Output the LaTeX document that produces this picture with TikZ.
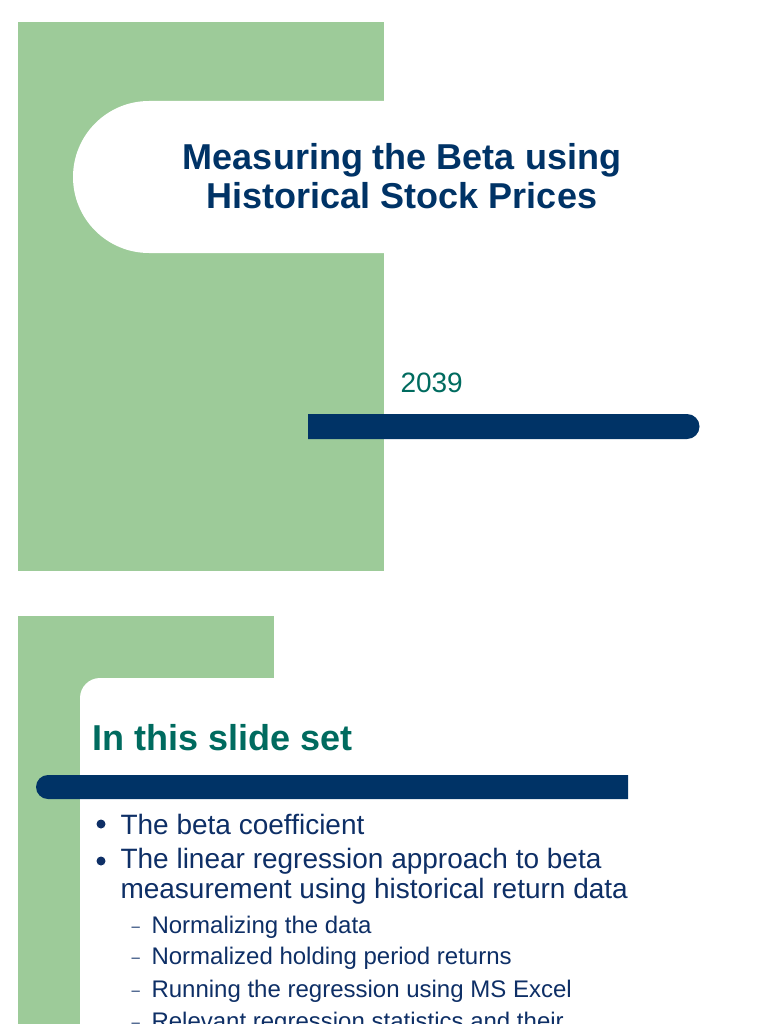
\documentclass[tikz,border=0pt]{standalone}
\usepackage{fontspec}
\setmainfont{Liberation Sans}
\definecolor{grn}{HTML}{9DCB99}
\definecolor{navy}{HTML}{003366}
\definecolor{teal2}{HTML}{006B5F}
\definecolor{txt}{HTML}{0E2F66}
\begin{document}
\begin{tikzpicture}[x=1pt,y=-1pt,
  tl/.style={font=\fontsize{36}{39}\selectfont\bfseries},
  bl/.style={anchor=west,text=txt,font=\fontsize{28}{30}\selectfont},
  sb/.style={anchor=west,text=txt,font=\fontsize{24}{25}\selectfont}]
\useasboundingbox (0,0) rectangle (768,1024);
\fill[white] (0,0) rectangle (768,1024);
% slide 1
\fill[grn] (18,22) rectangle (384,571);
\fill[white] (149,101) -- (384,101) -- (384,253) -- (149,253) arc[start angle=90,end angle=270,radius=76] -- cycle;
\node[tl,text=navy,align=center] (t1) at (402,176) {Measuring the Beta using\\Historical Stock Prices};
\node[anchor=west,text=teal2,font=\fontsize{28}{28}\selectfont] (yr) at (397,383) {2039};
\fill[navy] (308,414) -- (687,414) arc[start angle=270,end angle=450,radius=12.5] -- (308,439) -- cycle;
% slide 2
\fill[grn] (18,616) rectangle (274,1024);
\fill[white] (80,1024) -- (80,698) arc[start angle=180,end angle=270,radius=20] -- (274,678) -- (274,1024) -- cycle;
\node[tl,text=teal2,anchor=west] (t2) at (89,738) {In this slide set};
\fill[navy] (628,775) -- (48,775) arc[start angle=270,end angle=90,radius=12] -- (628,799) -- cycle;
\foreach \y in {824,861}{\fill[txt] (101,\y) circle[radius=4.5];}
\node[bl] (b1) at (117,824) {The beta coefficient};
\node[bl] (b2) at (117,861) {The linear regression approach to beta};
\node[bl] (b3) at (117,891) {measurement using historical return data};
\foreach \y/\t in {927/Normalizing the data,958/Normalized holding period returns,991/Running the regression using MS Excel,1023/Relevant regression statistics and their}{
  \node[sb,font=\fontsize{15}{16}\selectfont] at (128,\y+2) {–};
  \node[sb] at (148,\y) {\t};}
\end{tikzpicture}
\end{document}
